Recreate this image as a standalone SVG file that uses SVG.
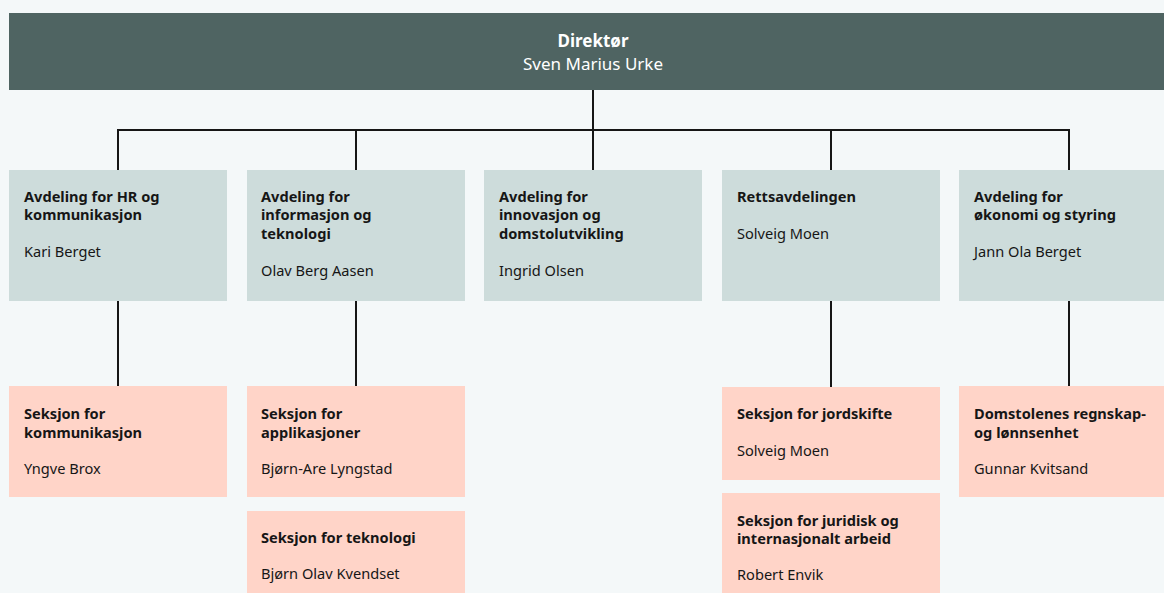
<svg xmlns="http://www.w3.org/2000/svg" width="1164" height="593" viewBox="0 0 1164 593">
<style>
.bg{fill:#f4f8f9}
.dir{fill:#4f6462}
.dept{fill:#cddcdb}
.sec{fill:#ffd4c8}
text{font-family:"Noto Sans","Liberation Sans",sans-serif;fill:#161616;font-size:14.6px}
.b{font-weight:bold}
.w{fill:#ffffff;font-size:17px}
.conn{stroke:#161616;stroke-width:2;fill:none}
</style>
<rect class="bg" x="0" y="0" width="1164" height="593"/>
<g id="connectors">
<path class="conn" d="M593 90V170M118 130H1069M118 129V170M356 130V170M831 130V170M1069 129V170"/>
<path class="conn" d="M118 301V386M356 301V386M831 301V387M1069 301V386"/>
</g>
<g id="director">
<rect class="dir" x="9" y="13" width="1155" height="77"/>
<text class="w b" x="593" y="47" text-anchor="middle">Direktør</text>
<text class="w" x="593" y="69.5" text-anchor="middle">Sven Marius Urke</text>
</g>
<g id="dept-hr">
<rect class="dept" x="9" y="170" width="218" height="131"/>
<text class="b" x="24" y="201.5">Avdeling for HR og</text>
<text class="b" x="24" y="220">kommunikasjon</text>
<text x="24" y="257">Kari Berget</text>
</g>
<g id="dept-it">
<rect class="dept" x="247" y="170" width="218" height="131"/>
<text class="b" x="261" y="201.5">Avdeling for</text>
<text class="b" x="261" y="220">informasjon og</text>
<text class="b" x="261" y="238.5">teknologi</text>
<text x="261" y="275.5">Olav Berg Aasen</text>
</g>
<g id="dept-inn">
<rect class="dept" x="484" y="170" width="218" height="131"/>
<text class="b" x="499" y="201.5">Avdeling for</text>
<text class="b" x="499" y="220">innovasjon og</text>
<text class="b" x="499" y="238.5">domstolutvikling</text>
<text x="499" y="275.5">Ingrid Olsen</text>
</g>
<g id="dept-rett">
<rect class="dept" x="722" y="170" width="218" height="131"/>
<text class="b" x="737" y="201.5">Rettsavdelingen</text>
<text x="737" y="238.5">Solveig Moen</text>
</g>
<g id="dept-okon">
<rect class="dept" x="959" y="170" width="218" height="131"/>
<text class="b" x="974" y="201.5">Avdeling for</text>
<text class="b" x="974" y="220">økonomi og styring</text>
<text x="974" y="257">Jann Ola Berget</text>
</g>
<g id="sec-komm">
<rect class="sec" x="9" y="386" width="218" height="111"/>
<text class="b" x="24" y="418.5">Seksjon for</text>
<text class="b" x="24" y="437.5">kommunikasjon</text>
<text x="24" y="473.5">Yngve Brox</text>
</g>
<g id="sec-app">
<rect class="sec" x="247" y="386" width="218" height="111"/>
<text class="b" x="261" y="418.5">Seksjon for</text>
<text class="b" x="261" y="437.5">applikasjoner</text>
<text x="261" y="473.5">Bjørn-Are Lyngstad</text>
</g>
<g id="sec-tek">
<rect class="sec" x="247" y="511" width="218" height="90"/>
<text class="b" x="261" y="542.5">Seksjon for teknologi</text>
<text x="261" y="578.5">Bjørn Olav Kvendset</text>
</g>
<g id="sec-jord">
<rect class="sec" x="722" y="387" width="218" height="93"/>
<text class="b" x="737" y="418.5">Seksjon for jordskifte</text>
<text x="737" y="455.5">Solveig Moen</text>
</g>
<g id="sec-jur">
<rect class="sec" x="722" y="493" width="218" height="108"/>
<text class="b" x="737" y="525.5">Seksjon for juridisk og</text>
<text class="b" x="737" y="543.5">internasjonalt arbeid</text>
<text x="737" y="579.5">Robert Envik</text>
</g>
<g id="sec-regn">
<rect class="sec" x="959" y="386" width="218" height="111"/>
<text class="b" x="974" y="418.5">Domstolenes regnskap-</text>
<text class="b" x="974" y="437.5">og lønnsenhet</text>
<text x="974" y="473.5">Gunnar Kvitsand</text>
</g>
</svg>
